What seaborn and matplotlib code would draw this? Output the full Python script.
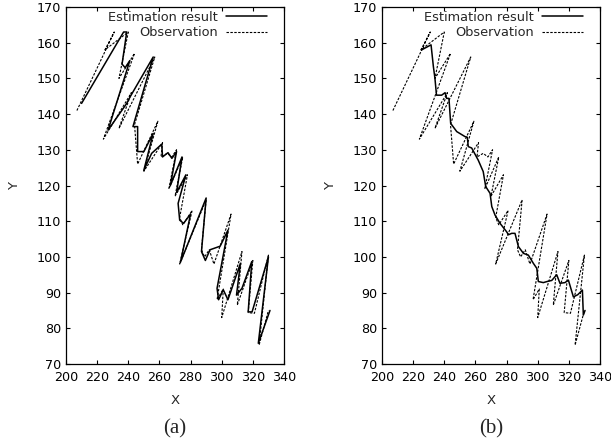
import matplotlib
matplotlib.use("Agg")
import matplotlib.pyplot as plt
import pandas as pd
import seaborn as sns

# observation track (dashed), shared by both panels
obs_x = [207, 231, 225, 240, 234, 244, 224, 242, 234, 257, 244, 246, 259, 250, 262,
         261, 265, 268, 271, 266, 275, 270, 278, 273, 275, 281, 273, 290, 287, 289,
         292, 295, 306, 297, 301, 300, 313, 310, 320, 317, 321, 330, 324, 330]
obs_y = [141, 163, 158, 163, 150, 157, 133, 146, 136, 156, 137, 126, 138, 124, 132,
         128, 129, 128, 130, 119, 128, 117, 123, 111, 109, 113, 98, 116, 102, 100,
         102, 98, 112, 88, 91, 83, 101.5, 86.5, 99, 84.4, 84.2, 100.5, 75.3, 85]

# panel (a) estimate
est_a_x = [210, 237, 239, 236, 238, 241, 227, 239, 241, 256, 243, 246, 246, 250, 256,
           250, 255, 261.5, 262, 265.5, 268, 271, 267, 274.5, 271, 277, 272, 273, 275.5,
           280, 273.5, 290, 287, 289.5, 292.5, 299, 304, 297, 298, 301, 304, 312, 309.5,
           313, 319.3, 317, 319.5, 330, 323.5, 331]
est_a_y = [143, 163, 163, 154, 153, 155, 135.5, 143, 144.7, 156, 136.5, 136.5, 129.5,
           129.5, 134.6, 124.3, 129, 131.6, 128, 129.2, 127.6, 129.5, 120, 128, 118, 123,
           115, 110.3, 109.4, 112, 98.5, 116.5, 101.5, 99, 102, 103, 107.5, 91.2, 88,
           90.8, 88, 98.2, 89.3, 91.2, 98.7, 84.6, 84.6, 100, 75.8, 85]

# panel (b) estimate
est_b_x = [225.5, 231.5, 233, 234, 235, 238.3, 240.5, 241.5, 243, 244.1, 248, 253.3,
           254.8, 255.4, 257.6, 261.8, 265, 266.6, 269.4, 270.5, 272.6, 275.8, 280.1,
           281.2, 283.3, 285.4, 287.6, 290.8, 294, 297.2, 299.4, 300.4, 303.6, 306.8,
           309, 312.2, 314.3, 317.5, 319.7, 322.9, 325.7, 328.7, 329.3, 330.4]
est_b_y = [158, 159.4, 153.3, 150, 145.3, 145.3, 146, 144.4, 144.4, 137.4, 135.1, 133.7,
           133.5, 130.9, 130.5, 127.1, 123.9, 119.7, 117.8, 114.1, 111.7, 109.4, 107,
           106.2, 106.6, 106.6, 102.9, 101, 100.5, 98.2, 96.8, 93.1, 92.8, 93.2, 93.4,
           95, 92.6, 92.8, 93.5, 88.8, 89.4, 90.7, 83.7, 85]

x_ticks = list(range(200, 341, 20))
y_ticks = list(range(70, 171, 10))
captions = ["(a)", "(b)"]

sns.set_theme(style="ticks")
plt.rcParams["font.family"] = ["DejaVu Sans"]

fig = plt.figure(figsize=(6.11, 4.44), dpi=100)
W, H = 611, 444
obs = pd.DataFrame({"x": obs_x, "y": obs_y})
panels = [
    (66, pd.DataFrame({"x": est_a_x, "y": est_a_y})),
    (382, pd.DataFrame({"x": est_b_x, "y": est_b_y})),
]

for (left, est), cap in zip(panels, captions):
    ax = fig.add_axes([left / W, (H - 364) / H, 218 / W, 357 / H])
    sns.lineplot(data=obs, x="x", y="y", sort=False, estimator=None, ax=ax,
                 color="black", linewidth=0.8, linestyle=(0, (2.2, 1.3)),
                 label="Observation", zorder=2)
    sns.lineplot(data=est, x="x", y="y", sort=False, estimator=None, ax=ax,
                 color="black", linewidth=1.1, label="Estimation result", zorder=3)
    ax.set_xlim(200, 340)
    ax.set_ylim(70, 170)
    ax.set_xticks(x_ticks)
    ax.set_yticks(y_ticks)
    ax.tick_params(direction="in", length=3.2, width=0.8, top=True, right=True,
                   labelsize=9.2, colors="black")
    ax.tick_params(axis="x", pad=5.2)
    ax.tick_params(axis="y", pad=3.5)
    for s in ax.spines.values():
        s.set_color("black")
        s.set_linewidth(0.9)
    ax.set_xlabel("X", fontsize=9.5, labelpad=7)
    ax.set_ylabel("Y", fontsize=9.5, labelpad=11)
    h, l = ax.get_legend_handles_labels()
    ax.legend(h[::-1], l[::-1], loc="upper right", frameon=False, markerfirst=False,
              fontsize=9.3, handlelength=3.2, handletextpad=0.6, labelspacing=0.22,
              borderpad=0, borderaxespad=0, bbox_to_anchor=(0.922, 0.99))
    ax.text(0.5, -0.182, cap, transform=ax.transAxes, ha="center", va="center",
            fontsize=15, family=["Liberation Serif", "DejaVu Serif"])

fig.savefig("out.png", dpi=100)
plt.close(fig)
